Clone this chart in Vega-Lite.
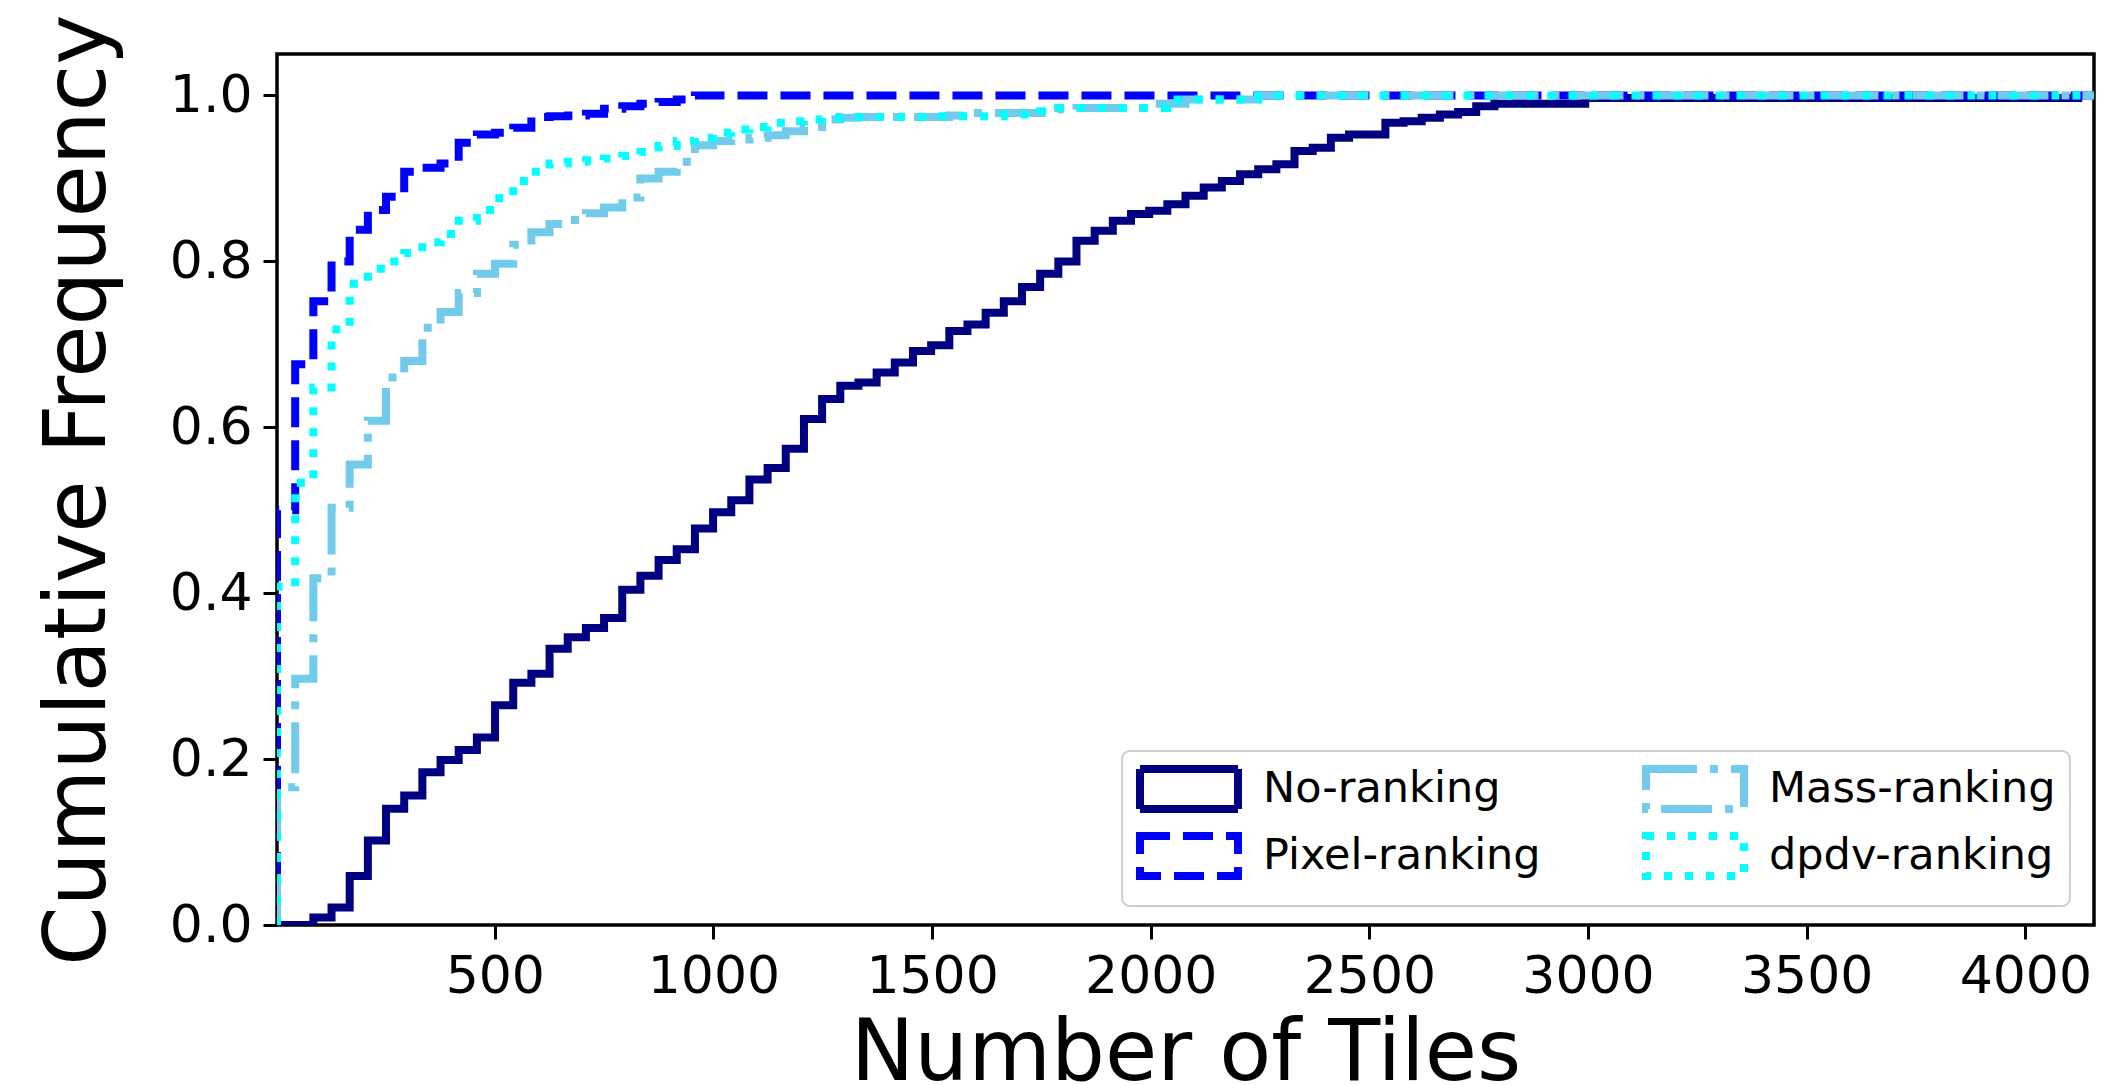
{
  "$schema": "https://vega.github.io/schema/vega-lite/v6.json",
  "autosize": {"type": "none"},
  "padding": {"left": 277, "top": 54, "right": 10, "bottom": 160},
  "width": 1817,
  "height": 871,
  "background": "white",
  "config": {
    "font": "DejaVu Sans",
    "view": {"stroke": "black", "strokeWidth": 3.5},
    "axis": {
      "domain": false,
      "grid": false,
      "tickColor": "black",
      "tickWidth": 3,
      "tickSize": 14,
      "labelColor": "black",
      "labelFont": "DejaVu Sans",
      "labelFontSize": 52,
      "labelFlush": false,
      "titleFont": "DejaVu Sans",
      "titleFontSize": 85,
      "titleFontWeight": "normal",
      "titleColor": "black"
    },
    "legend": {
      "orient": "none",
      "legendX": 845,
      "legendY": 697,
      "direction": "vertical",
      "columns": 2,
      "columnPadding": 89,
      "rowPadding": -5,
      "padding": 14,
      "strokeColor": "#cccccc",
      "strokeWidth": 2,
      "fillColor": "rgba(255,255,255,0.8)",
      "cornerRadius": 8,
      "symbolType": "M-2.45,-1H2.45V1H-2.45Z",
      "symbolSize": 1600,
      "symbolOffset": 29,
      "symbolStrokeWidth": 8,
      "symbolFillColor": "transparent",
      "labelFont": "DejaVu Sans",
      "labelFontSize": 43,
      "labelColor": "black",
      "labelOffset": 50,
      "labelLimit": 1000
    }
  },
  "data": {
    "values": [
      {"s": "No-ranking", "x": 2, "y": 0},
      {"s": "No-ranking", "x": 43.6, "y": 0},
      {"s": "No-ranking", "x": 85.1, "y": 0.009},
      {"s": "No-ranking", "x": 126.7, "y": 0.021},
      {"s": "No-ranking", "x": 168.2, "y": 0.059},
      {"s": "No-ranking", "x": 209.8, "y": 0.102},
      {"s": "No-ranking", "x": 251.3, "y": 0.14},
      {"s": "No-ranking", "x": 292.9, "y": 0.156},
      {"s": "No-ranking", "x": 334.4, "y": 0.184},
      {"s": "No-ranking", "x": 376, "y": 0.199},
      {"s": "No-ranking", "x": 417.5, "y": 0.211},
      {"s": "No-ranking", "x": 459.1, "y": 0.226},
      {"s": "No-ranking", "x": 500.6, "y": 0.265},
      {"s": "No-ranking", "x": 542.2, "y": 0.292},
      {"s": "No-ranking", "x": 583.7, "y": 0.303},
      {"s": "No-ranking", "x": 625.3, "y": 0.333},
      {"s": "No-ranking", "x": 666.8, "y": 0.347},
      {"s": "No-ranking", "x": 708.4, "y": 0.358},
      {"s": "No-ranking", "x": 749.9, "y": 0.37},
      {"s": "No-ranking", "x": 791.5, "y": 0.404},
      {"s": "No-ranking", "x": 833, "y": 0.421},
      {"s": "No-ranking", "x": 874.6, "y": 0.44},
      {"s": "No-ranking", "x": 916.1, "y": 0.453},
      {"s": "No-ranking", "x": 957.7, "y": 0.478},
      {"s": "No-ranking", "x": 999.2, "y": 0.4975},
      {"s": "No-ranking", "x": 1040.8, "y": 0.512},
      {"s": "No-ranking", "x": 1082.3, "y": 0.537},
      {"s": "No-ranking", "x": 1123.9, "y": 0.551},
      {"s": "No-ranking", "x": 1165.4, "y": 0.574},
      {"s": "No-ranking", "x": 1207, "y": 0.61},
      {"s": "No-ranking", "x": 1248.5, "y": 0.634},
      {"s": "No-ranking", "x": 1290.1, "y": 0.65},
      {"s": "No-ranking", "x": 1331.6, "y": 0.654},
      {"s": "No-ranking", "x": 1373.2, "y": 0.666},
      {"s": "No-ranking", "x": 1414.7, "y": 0.678},
      {"s": "No-ranking", "x": 1456.3, "y": 0.692},
      {"s": "No-ranking", "x": 1497.8, "y": 0.699},
      {"s": "No-ranking", "x": 1539.4, "y": 0.716},
      {"s": "No-ranking", "x": 1580.9, "y": 0.724},
      {"s": "No-ranking", "x": 1622.5, "y": 0.738},
      {"s": "No-ranking", "x": 1664, "y": 0.752},
      {"s": "No-ranking", "x": 1705.6, "y": 0.769},
      {"s": "No-ranking", "x": 1747.1, "y": 0.785},
      {"s": "No-ranking", "x": 1788.7, "y": 0.8},
      {"s": "No-ranking", "x": 1830.2, "y": 0.825},
      {"s": "No-ranking", "x": 1871.8, "y": 0.837},
      {"s": "No-ranking", "x": 1913.3, "y": 0.849},
      {"s": "No-ranking", "x": 1954.9, "y": 0.857},
      {"s": "No-ranking", "x": 1996.4, "y": 0.861},
      {"s": "No-ranking", "x": 2038, "y": 0.869},
      {"s": "No-ranking", "x": 2079.5, "y": 0.879},
      {"s": "No-ranking", "x": 2121.1, "y": 0.889},
      {"s": "No-ranking", "x": 2162.6, "y": 0.897},
      {"s": "No-ranking", "x": 2204.2, "y": 0.905},
      {"s": "No-ranking", "x": 2245.7, "y": 0.911},
      {"s": "No-ranking", "x": 2287.3, "y": 0.917},
      {"s": "No-ranking", "x": 2328.8, "y": 0.933},
      {"s": "No-ranking", "x": 2370.4, "y": 0.937},
      {"s": "No-ranking", "x": 2411.9, "y": 0.949},
      {"s": "No-ranking", "x": 2453.5, "y": 0.953},
      {"s": "No-ranking", "x": 2536.6, "y": 0.967},
      {"s": "No-ranking", "x": 2578.1, "y": 0.969},
      {"s": "No-ranking", "x": 2619.7, "y": 0.973},
      {"s": "No-ranking", "x": 2661.2, "y": 0.977},
      {"s": "No-ranking", "x": 2702.8, "y": 0.98},
      {"s": "No-ranking", "x": 2744.3, "y": 0.987},
      {"s": "No-ranking", "x": 2785.9, "y": 0.99},
      {"s": "No-ranking", "x": 2993.6, "y": 0.997},
      {"s": "No-ranking", "x": 4130, "y": 0.997},

      {"s": "Pixel-ranking", "x": 2, "y": 0},
      {"s": "Pixel-ranking", "x": 2, "y": 0.5},
      {"s": "Pixel-ranking", "x": 43.6, "y": 0.676},
      {"s": "Pixel-ranking", "x": 85.1, "y": 0.752},
      {"s": "Pixel-ranking", "x": 126.7, "y": 0.8},
      {"s": "Pixel-ranking", "x": 168.2, "y": 0.838},
      {"s": "Pixel-ranking", "x": 209.8, "y": 0.862},
      {"s": "Pixel-ranking", "x": 251.3, "y": 0.878},
      {"s": "Pixel-ranking", "x": 292.9, "y": 0.908},
      {"s": "Pixel-ranking", "x": 334.4, "y": 0.913},
      {"s": "Pixel-ranking", "x": 376, "y": 0.918},
      {"s": "Pixel-ranking", "x": 417.5, "y": 0.943},
      {"s": "Pixel-ranking", "x": 459.1, "y": 0.953},
      {"s": "Pixel-ranking", "x": 500.6, "y": 0.955},
      {"s": "Pixel-ranking", "x": 542.2, "y": 0.961},
      {"s": "Pixel-ranking", "x": 583.7, "y": 0.974},
      {"s": "Pixel-ranking", "x": 625.3, "y": 0.975},
      {"s": "Pixel-ranking", "x": 666.8, "y": 0.976},
      {"s": "Pixel-ranking", "x": 708.4, "y": 0.978},
      {"s": "Pixel-ranking", "x": 749.9, "y": 0.984},
      {"s": "Pixel-ranking", "x": 791.5, "y": 0.987},
      {"s": "Pixel-ranking", "x": 833, "y": 0.99},
      {"s": "Pixel-ranking", "x": 874.6, "y": 0.992},
      {"s": "Pixel-ranking", "x": 916.1, "y": 0.995},
      {"s": "Pixel-ranking", "x": 957.7, "y": 1.0},
      {"s": "Pixel-ranking", "x": 4157, "y": 1.0},

      {"s": "Mass-ranking", "x": 2, "y": 0},
      {"s": "Mass-ranking", "x": 2, "y": 0.166},
      {"s": "Mass-ranking", "x": 43.6, "y": 0.297},
      {"s": "Mass-ranking", "x": 85.1, "y": 0.418},
      {"s": "Mass-ranking", "x": 126.7, "y": 0.503},
      {"s": "Mass-ranking", "x": 168.2, "y": 0.555},
      {"s": "Mass-ranking", "x": 209.8, "y": 0.608},
      {"s": "Mass-ranking", "x": 251.3, "y": 0.66},
      {"s": "Mass-ranking", "x": 292.9, "y": 0.68},
      {"s": "Mass-ranking", "x": 334.4, "y": 0.72},
      {"s": "Mass-ranking", "x": 376, "y": 0.739},
      {"s": "Mass-ranking", "x": 417.5, "y": 0.762},
      {"s": "Mass-ranking", "x": 459.1, "y": 0.785},
      {"s": "Mass-ranking", "x": 500.6, "y": 0.797},
      {"s": "Mass-ranking", "x": 542.2, "y": 0.82},
      {"s": "Mass-ranking", "x": 583.7, "y": 0.835},
      {"s": "Mass-ranking", "x": 625.3, "y": 0.845},
      {"s": "Mass-ranking", "x": 666.8, "y": 0.85},
      {"s": "Mass-ranking", "x": 708.4, "y": 0.858},
      {"s": "Mass-ranking", "x": 749.9, "y": 0.865},
      {"s": "Mass-ranking", "x": 791.5, "y": 0.877},
      {"s": "Mass-ranking", "x": 833, "y": 0.9},
      {"s": "Mass-ranking", "x": 874.6, "y": 0.908},
      {"s": "Mass-ranking", "x": 916.1, "y": 0.92},
      {"s": "Mass-ranking", "x": 957.7, "y": 0.94},
      {"s": "Mass-ranking", "x": 999.2, "y": 0.945},
      {"s": "Mass-ranking", "x": 1040.8, "y": 0.947},
      {"s": "Mass-ranking", "x": 1082.3, "y": 0.949},
      {"s": "Mass-ranking", "x": 1123.9, "y": 0.952},
      {"s": "Mass-ranking", "x": 1165.4, "y": 0.957},
      {"s": "Mass-ranking", "x": 1207, "y": 0.962},
      {"s": "Mass-ranking", "x": 1248.5, "y": 0.971},
      {"s": "Mass-ranking", "x": 1290.1, "y": 0.973},
      {"s": "Mass-ranking", "x": 1331.6, "y": 0.974},
      {"s": "Mass-ranking", "x": 1539.4, "y": 0.976},
      {"s": "Mass-ranking", "x": 1580.9, "y": 0.979},
      {"s": "Mass-ranking", "x": 1788.7, "y": 0.983},
      {"s": "Mass-ranking", "x": 1830.2, "y": 0.985},
      {"s": "Mass-ranking", "x": 1996.4, "y": 0.99},
      {"s": "Mass-ranking", "x": 2079.5, "y": 0.995},
      {"s": "Mass-ranking", "x": 2245.7, "y": 1.0},
      {"s": "Mass-ranking", "x": 4157, "y": 1.0},

      {"s": "dpdv-ranking", "x": 2, "y": 0},
      {"s": "dpdv-ranking", "x": 2, "y": 0.408},
      {"s": "dpdv-ranking", "x": 43.6, "y": 0.533},
      {"s": "dpdv-ranking", "x": 85.1, "y": 0.648},
      {"s": "dpdv-ranking", "x": 126.7, "y": 0.718},
      {"s": "dpdv-ranking", "x": 168.2, "y": 0.773},
      {"s": "dpdv-ranking", "x": 209.8, "y": 0.791},
      {"s": "dpdv-ranking", "x": 251.3, "y": 0.8},
      {"s": "dpdv-ranking", "x": 292.9, "y": 0.81},
      {"s": "dpdv-ranking", "x": 334.4, "y": 0.823},
      {"s": "dpdv-ranking", "x": 376, "y": 0.833},
      {"s": "dpdv-ranking", "x": 417.5, "y": 0.849},
      {"s": "dpdv-ranking", "x": 459.1, "y": 0.862},
      {"s": "dpdv-ranking", "x": 500.6, "y": 0.876},
      {"s": "dpdv-ranking", "x": 542.2, "y": 0.897},
      {"s": "dpdv-ranking", "x": 583.7, "y": 0.908},
      {"s": "dpdv-ranking", "x": 625.3, "y": 0.918},
      {"s": "dpdv-ranking", "x": 666.8, "y": 0.92},
      {"s": "dpdv-ranking", "x": 708.4, "y": 0.922},
      {"s": "dpdv-ranking", "x": 749.9, "y": 0.924},
      {"s": "dpdv-ranking", "x": 791.5, "y": 0.927},
      {"s": "dpdv-ranking", "x": 833, "y": 0.932},
      {"s": "dpdv-ranking", "x": 874.6, "y": 0.939},
      {"s": "dpdv-ranking", "x": 916.1, "y": 0.945},
      {"s": "dpdv-ranking", "x": 957.7, "y": 0.949},
      {"s": "dpdv-ranking", "x": 999.2, "y": 0.955},
      {"s": "dpdv-ranking", "x": 1040.8, "y": 0.959},
      {"s": "dpdv-ranking", "x": 1082.3, "y": 0.962},
      {"s": "dpdv-ranking", "x": 1123.9, "y": 0.967},
      {"s": "dpdv-ranking", "x": 1165.4, "y": 0.969},
      {"s": "dpdv-ranking", "x": 1207, "y": 0.971},
      {"s": "dpdv-ranking", "x": 1248.5, "y": 0.973},
      {"s": "dpdv-ranking", "x": 1290.1, "y": 0.974},
      {"s": "dpdv-ranking", "x": 1497.8, "y": 0.975},
      {"s": "dpdv-ranking", "x": 1664, "y": 0.977},
      {"s": "dpdv-ranking", "x": 1747.1, "y": 0.981},
      {"s": "dpdv-ranking", "x": 1788.7, "y": 0.985},
      {"s": "dpdv-ranking", "x": 2038, "y": 0.995},
      {"s": "dpdv-ranking", "x": 2245.7, "y": 1.0},
      {"s": "dpdv-ranking", "x": 4157, "y": 1.0}
    ]
  },
  "mark": {"type": "line", "interpolate": "step-after", "strokeWidth": 8, "strokeCap": "butt", "clip": true},
  "encoding": {
    "x": {
      "field": "x", "type": "quantitative",
      "scale": {"domain": [2, 4157], "nice": false, "zero": false},
      "axis": {"values": [500, 1000, 1500, 2000, 2500, 3000, 3500, 4000], "format": "d", "labelPadding": 12, "title": "Number of Tiles", "titlePadding": 10}
    },
    "y": {
      "field": "y", "type": "quantitative",
      "scale": {"domain": [0, 1.05], "nice": false},
      "axis": {"values": [0, 0.2, 0.4, 0.6, 0.8, 1.0], "format": ".1f", "labelPadding": 11, "title": "Cumulative Frequency", "titlePadding": 47}
    },
    "stroke": {
      "field": "s", "type": "nominal",
      "scale": {"domain": ["No-ranking", "Pixel-ranking", "Mass-ranking", "dpdv-ranking"], "range": ["#000080", "#0000FF", "#72CBEB", "#00FFFF"]},
      "legend": {"title": null}
    },
    "strokeDash": {
      "field": "s", "type": "nominal",
      "scale": {"domain": ["No-ranking", "Pixel-ranking", "Mass-ranking", "dpdv-ranking"], "range": [[1, 0], [30, 13], [51, 13, 8, 13], [8, 13]]},
      "legend": {"title": null}
    }
  }
}
